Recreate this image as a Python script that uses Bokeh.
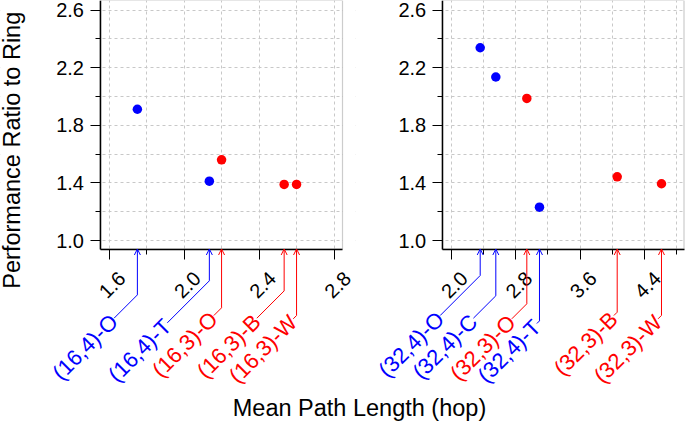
import math
from bokeh.plotting import figure
from bokeh.core.properties import value
from bokeh.models import (Range1d, FixedTicker, NumeralTickFormatter, ColumnDataSource,
                          Arrow, OpenHead, LabelSet, Label, BoxAnnotation, LinearAxis,
                          CustomJSTickFormatter)
from bokeh.layouts import column, row
from bokeh.embed import file_html
from bokeh.resources import INLINE

# ---------------- data ----------------
left_names = ["(16,4)-O", "(16,4)-T", "(16,3)-O", "(16,3)-B", "(16,3)-W"]
left_x = [1.751, 2.134, 2.199, 2.532, 2.598]
left_y = [1.911, 1.412, 1.560, 1.389, 1.389]

right_names = ["(32,4)-O", "(32,4)-C", "(32,3)-O", "(32,4)-T", "(32,3)-B", "(32,3)-W"]
right_x = [2.360, 2.554, 2.939, 3.096, 4.061, 4.611]
right_y = [2.338, 2.135, 1.986, 1.231, 1.442, 1.394]

y_ticks = [1.0, 1.4, 1.8, 2.2, 2.6]
y_minor = [1.2, 1.6, 2.0, 2.4]
left_ticks = [1.6, 2.0, 2.4, 2.8]
left_minor = [1.8, 2.2, 2.6]
right_ticks = [2.0, 2.8, 3.6, 4.4]
right_minor = [2.4, 3.2, 4.0, 4.8]

# ---------------- layout / style ----------------
left_label_dx = [23.3, 42.0, 7.7, 27.3, 3.3]      # px, leader horizontal run
left_label_dy = [69.2, 73.8, 66.5, 69.2, 69.8]    # px below plot box bottom
right_label_dx = [40.0, 22.4, 15.0, 2.6, 3.3, 3.4]
right_label_dy = [66.5, 69.2, 69.8, 74.5, 66.5, 69.8]

FONT = "Liberation Sans"
BLUE = "#0000ff"
RED = "#ff0000"
FIG_H = 392
XLAB_H = 30
BOX_TOP, BOX_BOTTOM = 0, 248.5        # px
Y_BOX = (0.941, 2.666)                # data extent of the plot box
TICK_LABEL_SHIFT = 13                 # px, centre rotated tick labels on ticks
TICK_FONT = "20px"


def color_of(name):
    return BLUE if ",4)" in name else RED


def make_panel(names, xs, ys, x_box, ticks, minor, dxs, dys, width, box_l, box_r, with_ylabel):
    ppx = (box_r - box_l) / (x_box[1] - x_box[0])
    ppy = (BOX_BOTTOM - BOX_TOP) / (Y_BOX[1] - Y_BOX[0])
    xr = (x_box[0] - box_l / ppx, x_box[1] + (width - box_r) / ppx)
    yr = (Y_BOX[0] - (FIG_H - BOX_BOTTOM) / ppy, Y_BOX[1] + BOX_TOP / ppy)

    p = figure(width=width, height=FIG_H, x_range=Range1d(*xr), y_range=Range1d(*yr),
               output_backend="svg", toolbar_location=None,
               min_border_left=0, min_border_right=0, min_border_top=0, min_border_bottom=0)
    p.background_fill_color = "white"
    p.border_fill_color = "white"
    p.outline_line_color = None

    # axes at the plot box edges
    p.xaxis.fixed_location = Y_BOX[0]
    p.yaxis.fixed_location = x_box[0]
    p.xaxis.bounds = x_box
    p.yaxis.bounds = Y_BOX
    p.xaxis.ticker = FixedTicker(ticks=ticks, minor_ticks=minor)
    p.yaxis.ticker = FixedTicker(ticks=y_ticks, minor_ticks=y_minor)
    p.yaxis.formatter = NumeralTickFormatter(format="0.0")
    for ax in (p.xaxis[0], p.yaxis[0]):
        ax.axis_line_color = "black"
        ax.axis_line_width = 1.5
        ax.major_tick_line_color = "black"
        ax.minor_tick_line_color = "black"
        ax.major_tick_out = 10
        ax.major_tick_in = 0
        ax.minor_tick_out = 5
        ax.minor_tick_in = 0
        ax.major_label_text_font = FONT
        ax.major_label_text_font_size = TICK_FONT
        ax.major_label_text_color = "black"
    p.yaxis.major_label_standoff = 6
    p.xaxis.major_label_text_color = None

    # rotated x tick labels, centred on the ticks
    sh = TICK_LABEL_SHIFT / ppx
    lab_axis = LinearAxis(fixed_location=Y_BOX[0], bounds=(x_box[0], x_box[1] + 2 * sh),
                          ticker=FixedTicker(ticks=[t + sh for t in ticks]),
                          formatter=CustomJSTickFormatter(code=f"return (tick - {sh}).toFixed(1)"),
                          axis_line_color=None, major_tick_line_color=None,
                          minor_tick_line_color=None, major_tick_out=10, major_tick_in=0,
                          major_label_orientation=math.pi / 4, major_label_standoff=16,
                          major_label_text_font=FONT, major_label_text_font_size=TICK_FONT,
                          major_label_text_color="black")
    p.add_layout(lab_axis, "below")

    for g in (p.xgrid[0], p.ygrid[0]):
        g.level = "image"
        g.grid_line_color = "#c8c8c8"
        g.grid_line_dash = "3 3"
        g.grid_line_width = 1
        g.minor_grid_line_color = "#c8c8c8"
        g.minor_grid_line_dash = "3 3"
        g.minor_grid_line_width = 1

    # white covers keep the grid inside the plot box, then the box outline
    for kw in (dict(top=Y_BOX[0]), dict(right=x_box[0]), dict(left=x_box[1])):
        p.add_layout(BoxAnnotation(fill_color="white", fill_alpha=1, line_color=None,
                                   level="underlay", **kw))
    p.add_layout(BoxAnnotation(left=x_box[0], right=x_box[1], bottom=Y_BOX[0], top=Y_BOX[1],
                               fill_color=None, fill_alpha=0, line_color="#555555",
                               line_width=1.2, level="underlay"))

    cols = [color_of(n) for n in names]
    p.scatter(xs, ys, size=9.5, marker="circle", color=cols, line_color=None)

    # leader lines + labels
    y0 = Y_BOX[0]
    for col in (BLUE, RED):
        idx = [i for i, c in enumerate(cols) if c == col]
        if not idx:
            continue
        vx = [xs[i] for i in idx]
        bend = [y0 - (dys[i] - dxs[i]) / ppy for i in idx]
        ex = [xs[i] - dxs[i] / ppx for i in idx]
        ey = [y0 - dys[i] / ppy for i in idx]
        src_v = ColumnDataSource(dict(x0=vx, y0=bend, x1=vx, y1=[y0] * len(idx)))
        p.add_layout(Arrow(source=src_v, x_start="x0", y_start="y0", x_end="x1", y_end="y1",
                           line_color=col, line_width=1,
                           end=OpenHead(size=6, line_color=col, line_width=1)))
        src_d = ColumnDataSource(dict(x0=vx, y0=bend, x1=ex, y1=ey))
        p.add_layout(Arrow(source=src_d, x_start="x0", y_start="y0", x_end="x1", y_end="y1",
                           line_color=col, line_width=1, end=None))
        src_l = ColumnDataSource(dict(x=ex, y=ey, t=[names[i] for i in idx]))
        p.add_layout(LabelSet(source=src_l, x="x", y="y", text="t", angle=math.pi / 4,
                              text_align="right", text_baseline="middle",
                              text_font=value(FONT), text_font_size=value("22px"),
                              text_color=col))

    if with_ylabel:
        p.add_layout(Label(x=11.5, y=FIG_H - 149.7, x_units="screen", y_units="screen",
                           text="Performance Ratio to Ring", angle=math.pi / 2,
                           text_align="center", text_baseline="middle",
                           text_font=FONT, text_font_size="23.5px", text_color="black"))
    return p


p1 = make_panel(left_names, left_x, left_y, (1.5521, 2.8425), left_ticks, left_minor,
                left_label_dx, left_label_dy, 355, 99.5, 342, True)
p2 = make_panel(right_names, right_x, right_y, (1.8883, 4.8904), right_ticks, right_minor,
                right_label_dx, right_label_dy, 330, 86.7, 328.5, False)

p3 = figure(width=685, height=XLAB_H, x_range=Range1d(0, 685), y_range=Range1d(0, XLAB_H),
            output_backend="svg", toolbar_location=None,
            min_border=0, min_border_left=0, min_border_right=0,
            min_border_top=0, min_border_bottom=0)
p3.axis.visible = False
p3.grid.visible = False
p3.outline_line_color = None
p3.background_fill_color = "white"
p3.border_fill_color = "white"
p3.add_layout(Label(x=359, y=XLAB_H - 15, x_units="screen", y_units="screen",
                    text="Mean Path Length (hop)", text_align="center",
                    text_baseline="middle", text_font=FONT, text_font_size="23.5px",
                    text_color="black"))

layout = column(row(p1, p2), p3)
open("out.html", "w").write(file_html(layout, INLINE))
